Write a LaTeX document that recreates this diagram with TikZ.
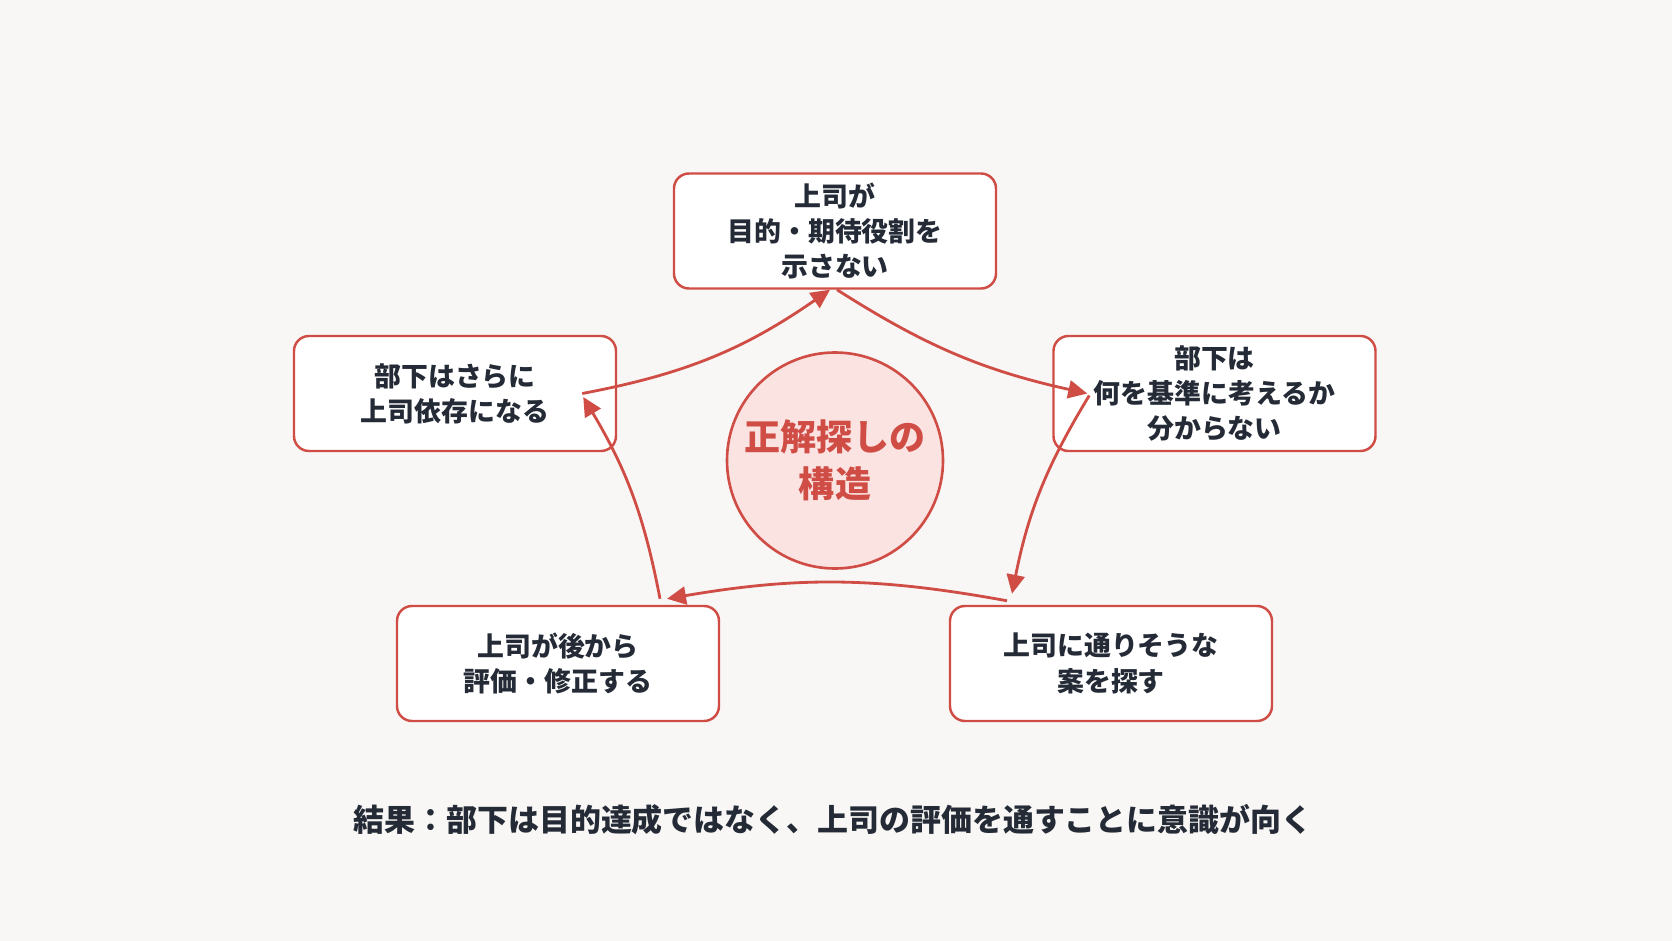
\documentclass[tikz,border=0pt]{standalone}
\usepackage{fontspec}
\setmainfont{Noto Sans CJK JP}
\usetikzlibrary{arrows.meta,positioning}
\definecolor{loopred}{RGB}{208,77,70}
\definecolor{hubfill}{RGB}{251,227,226}
\definecolor{inkcolor}{RGB}{37,43,54}
\definecolor{paper}{RGB}{248,247,245}
\tikzset{
	stepbox/.style={
		rectangle,
		rounded corners=0.3cm,
		line width=1.4pt,
		draw=loopred,
		fill=white,
		minimum height=2.3cm,
		minimum width=6.44cm,
		align=center,
		text=inkcolor,
		font=\fontsize{15.3}{20}\selectfont\bfseries
	},
	hub/.style={
		circle,
		line width=1.5pt,
		draw=loopred,
		fill=hubfill,
		minimum size=4.32cm,
		align=center,
		text=loopred,
		font=\fontsize{20.5}{27}\selectfont\bfseries
	},
	cyclearrow/.style={
		draw=loopred,
		line width=1.6pt,
		-{Triangle[length=3.8mm,width=3.6mm]},
		bend right=10
	},
}
\begin{document}
\begin{tikzpicture}
	\useasboundingbox[fill=paper] (0,0) rectangle (33.44,-18.82);
	\node[hub] (c) at (16.7,-9.21) {正解探しの\\構造};
	\node[stepbox] (s0) at (16.7,-4.62) {上司が\\目的・期待役割を\\示さない};
	\node[stepbox] (s1) at (24.29,-7.87) {部下は\\何を基準に考えるか\\分からない};
	\node[stepbox] (s2) at (22.22,-13.27) {上司に通りそうな\\案を探す};
	\node[stepbox] (s3) at (11.16,-13.27) {上司が後から\\評価・修正する};
	\node[stepbox] (s4) at (9.1,-7.87) {部下はさらに\\上司依存になる};
	\node[text=inkcolor,font=\fontsize{17.6}{22}\selectfont\bfseries] (result) at (16.66,-16.4)
		{結果：部下は目的達成ではなく、上司の評価を通すことに意識が向く};
	% arrow ends sit a little inside the boxes
	\coordinate (s0-in)  at ([xshift=-0.1cm]s0.south);
	\coordinate (s0-out) at ([xshift=0.04cm]s0.south);
	\coordinate (s1-in)  at ([xshift=0.7cm]s1.west);
	\coordinate (s1-out) at ([xshift=0.74cm,yshift=-0.04cm]s1.west);
	\coordinate (s2-in)  at ([xshift=-1.98cm,yshift=0.22cm]s2.north);
	\coordinate (s2-out) at ([xshift=-2.08cm,yshift=0.08cm]s2.north);
	\coordinate (s3-in)  at ([xshift=2.18cm,yshift=0.12cm]s3.north);
	\coordinate (s3-out) at ([xshift=2.04cm,yshift=0.12cm]s3.north);
	\coordinate (s4-in)  at ([xshift=-0.68cm,yshift=-0.07cm]s4.east);
	\coordinate (s4-out) at ([xshift=-0.7cm]s4.east);
	\draw[cyclearrow,bend right=12] (s4-out) to (s0-in);
	\draw[cyclearrow] (s0-out) to (s1-in);
	\draw[cyclearrow] (s1-out) to (s2-in);
	\draw[cyclearrow] (s2-out) to (s3-in);
	\draw[cyclearrow] (s3-out) to (s4-in);
\end{tikzpicture}
\end{document}
